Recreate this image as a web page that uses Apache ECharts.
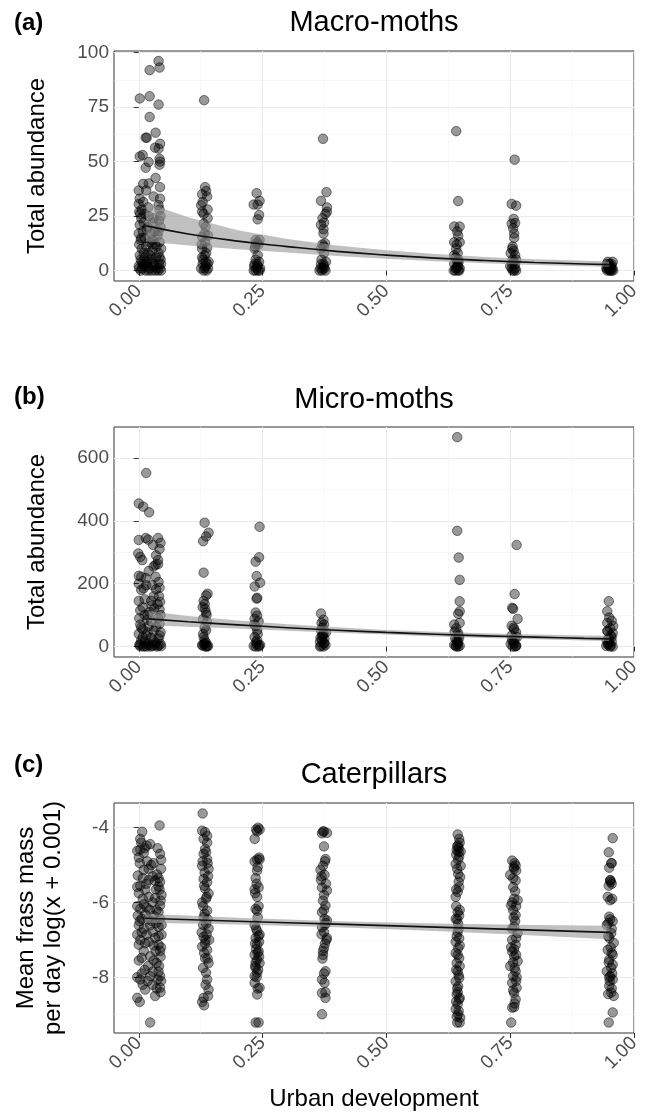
<!DOCTYPE html>
<html>
<head>
<meta charset="utf-8">
<script src="https://cdn.jsdelivr.net/npm/echarts@6.0.0/dist/echarts.min.js"></script>
<style>
  html, body { margin: 0; padding: 0; background: #fff; }
  #chart { width: 651px; height: 1113px; }
</style>
</head>
<body>
<div id="chart"></div>
<script>
// ---- data: [urban development (jittered), value] ----
// (a) Macro-moths, total abundance
const macroS1 = [[0.040,96.2],[0.042,93.2],[0.022,92],[0.002,79],[0.022,80],[0.040,76.2],[0.022,70.5],[0.034,63.3],[0.014,61],[0.016,61],[0.043,58.2],[0.033,56.4],[0.040,56],[0.002,52.4],[0.008,53],[0.020,49.8],[0.042,51.3],[0.043,50],[0.042,48.6],[0.014,47.2],[0.034,42.5],[0.043,38.3],[0.009,39.8],[0.020,40],[0.000,36.8],[0.015,36.8],[0.043,33],[0.002,33],[0.009,31.5],[0.000,30.5],[0.040,30],[0.042,28],
  [0.001,27],[0.012,26],[0.020,25],[0.005,24],[0.030,24],[0.041,23],[0.002,21],[0.018,20],[0.028,22],[0.044,20],[0.008,18],[0.000,17],[0.025,17],[0.038,16],[0.012,15],[0.004,14],[0.022,13],[0.042,13],[0.033,12],[0.001,12],[0.015,11],[0.045,10],[0.006,10],[0.027,9],[0.019,8],[0.040,8],[0.002,7],[0.012,6],[0.035,6],[0.044,5],[0.024,5],[0.006,4],[0.016,3],[0.030,3],[0.041,3],[0.000,2],[0.010,2],[0.021,1],[0.037,1],[0.043,1],[0.004,0],[0.014,0],[0.026,0],[0.033,0],[0.045,0],[0.001,1],[0.018,2],[0.028,4],[0.008,3],
  [0.003,26],[0.010,22],[0.016,19],[0.032,18],[0.040,18],[0.005,15],[0.028,14],[0.036,11],[0.010,8],[0.023,7],[0.042,6],[0.004,5],[0.017,4],[0.031,2],[0.039,0],[0.007,1],[0.020,0],[0.012,3],[0.045,3],[0.027,12],[0.019,29],[0.044,25],[0.030,34],[0.006,28]];
const macroS2 = [[0.132,78.2],[0.134,38.3],[0.136,36.5],[0.128,35],[0.138,34],[0.129,31.4],[0.139,28],[0.128,27],[0.131,21.5],[0.135,20],[0.133,17],[0.128,15.5],[0.140,16],[0.134,13],[0.128,10],[0.138,10.5],[0.133,7],[0.129,3],[0.135,2],[0.140,1],[0.131,0],[0.137,0],[0.126,1],[0.141,4],[0.130,5],[0.136,8],[0.127,12],[0.139,24],[0.131,26],[0.126,30],[0.133,1],[0.139,3],[0.128,6],[0.135,4]];
const macroS3 = [[0.238,35.5],[0.232,30.3],[0.240,30.3],[0.244,32],[0.243,25.5],[0.240,23.5],[0.236,14],[0.244,14],[0.239,13],[0.234,10],[0.240,7],[0.236,5],[0.243,4],[0.238,1],[0.232,0],[0.241,0],[0.236,0],[0.245,1],[0.233,2],[0.239,3],[0.242,12],[0.235,11],[0.244,0],[0.234,3],[0.240,2],[0.237,12]];
const macroS4 = [[0.372,60.5],[0.379,36],[0.368,32],[0.380,29],[0.377,26],[0.380,27],[0.371,24],[0.374,22],[0.368,21],[0.373,19],[0.373,17],[0.371,12],[0.374,11],[0.368,10],[0.374,8],[0.368,3],[0.374,2],[0.372,1],[0.370,0],[0.377,0],[0.365,0],[0.378,4],[0.369,5],[0.376,12.5],[0.373,3],[0.367,1],[0.375,1]];
const macroS5 = [[0.641,64],[0.645,31.9],[0.637,20.2],[0.648,20.2],[0.643,18],[0.645,16],[0.637,13],[0.648,13],[0.641,10],[0.637,7],[0.645,5],[0.637,3],[0.641,1],[0.645,0],[0.639,0],[0.648,1],[0.643,2],[0.636,0],[0.646,4],[0.640,6],[0.644,8],[0.642,12],[0.645,2],[0.640,1],[0.647,0],[0.643,4]];
const macroS6 = [[0.759,50.9],[0.753,30.6],[0.762,29.8],[0.757,23.7],[0.753,21.5],[0.760,21.8],[0.756,19.4],[0.758,17],[0.755,11],[0.757,9],[0.751,8],[0.760,7],[0.755,5],[0.762,5],[0.753,1],[0.758,0],[0.755,0],[0.762,0],[0.750,2],[0.760,3],[0.754,10],[0.758,15],[0.760,1],[0.754,3],[0.757,4]];
const macroS7 = [[0.947,4],[0.955,3],[0.950,2],[0.944,1],[0.953,1],[0.958,0],[0.946,0],[0.951,0],[0.955,0],[0.948,2],[0.957,4],[0.945,3],[0.952,0],[0.949,1],[0.956,1],[0.950,3],[0.954,2],[0.946,1]];
const macroFitX = [0.015, 0.1, 0.2, 0.3, 0.4, 0.5, 0.6, 0.7, 0.8, 0.9, 0.95];
const macroFit = [20.5, 16.8, 13.5, 11, 8.8, 7.1, 5.7, 4.6, 3.7, 3.0, 2.7];
const macroUpper = [31, 24.5, 18.5, 14.5, 11.5, 9.3, 7.6, 6.2, 5.2, 4.5, 4.2];
const macroLower = [13.5, 11.5, 9.8, 8.3, 6.7, 5.4, 4.3, 3.4, 2.6, 2.0, 1.7];

// (b) Micro-moths, total abundance
const microS1 = [[0.015,552],[0.000,455],[0.009,445],[0.021,427],[0.000,339],[0.014,345],[0.019,340],[0.039,345],[0.029,323],[0.042,310],[-0.001,296],[0.003,285],[0.007,275],[0.035,290],[0.039,275],[0.034,260],[0.039,262],[0.020,240],[0.000,225],[0.005,222],[0.014,218],[0.034,222],[0.042,187],[0.035,182],[0.000,145],[0.012,150],[0.025,145],[0.043,142],[0.003,115],[0.022,110],[0.042,118],[0.001,90],[0.017,85],[0.039,90],[0.003,70],[0.020,65],[0.042,72],[0.008,55],[0.030,50],[0.044,45],[0.000,40],[0.015,35],[0.025,28],[0.040,25],[0.005,20],[0.012,15],[0.034,12],[0.044,8],[0.001,5],[0.020,4],[0.028,2],[0.009,0],[0.016,0],[0.037,0],[0.045,1],[0.003,1],[0.024,0],[0.030,160],[0.010,185],[0.027,195],[0.041,160],[0.018,100],[0.031,120],
  [0.005,180],[0.015,195],[0.040,205],[0.026,130],[0.008,125],[0.038,135],[0.012,100],[0.044,100],[0.025,80],[0.005,60],[0.035,62],[0.018,45],[0.042,35],[0.008,30],[0.030,18],[0.020,10],[0.003,8],[0.040,3],[0.012,2],[0.033,5],[0.000,200],[0.030,255],[0.044,330]];
const microS2 = [[0.133,394],[0.141,362],[0.136,350],[0.130,335],[0.131,235],[0.139,168],[0.136,162],[0.131,145],[0.133,135],[0.134,120],[0.136,108],[0.130,88],[0.138,78],[0.133,60],[0.136,52],[0.131,30],[0.133,20],[0.136,12],[0.132,8],[0.129,3],[0.138,0],[0.134,0],[0.140,2],[0.128,5],[0.137,100],[0.129,125],[0.133,10],[0.130,40],[0.137,2]];
const microS3 = [[0.244,381],[0.243,284],[0.236,270],[0.238,224],[0.245,203],[0.234,191],[0.239,155],[0.238,152],[0.236,108],[0.239,98],[0.234,88],[0.242,80],[0.236,65],[0.239,52],[0.234,30],[0.239,20],[0.238,8],[0.236,0],[0.242,0],[0.232,2],[0.245,5],[0.240,40],[0.233,70],[0.237,15],[0.243,3]];
const microS4 = [[0.368,105],[0.373,85],[0.369,75],[0.374,70],[0.368,52],[0.373,41],[0.372,33],[0.370,20],[0.374,10],[0.368,2],[0.373,0],[0.366,0],[0.377,5],[0.371,60],[0.375,25],[0.366,15],[0.378,45],[0.370,35],[0.374,12],[0.367,28]];
const microS5 = [[0.643,666],[0.643,368],[0.646,283],[0.648,212],[0.648,144],[0.648,112],[0.645,104],[0.637,70],[0.648,75],[0.641,58],[0.645,42],[0.639,26],[0.643,12],[0.641,0],[0.645,0],[0.648,2],[0.637,5],[0.642,20],[0.646,35],[0.638,48],[0.644,8],[0.645,15],[0.640,3],[0.647,28]];
const microS6 = [[0.763,323],[0.759,167],[0.754,123],[0.756,120],[0.765,88],[0.753,66],[0.758,55],[0.762,45],[0.753,35],[0.759,25],[0.756,14],[0.762,3],[0.755,0],[0.760,0],[0.751,8],[0.764,30],[0.757,60],[0.758,10],[0.754,20],[0.762,2]];
const microS7 = [[0.949,144],[0.946,112],[0.950,92],[0.955,82],[0.946,75],[0.952,58],[0.946,50],[0.957,42],[0.950,26],[0.955,16],[0.947,8],[0.952,0],[0.957,0],[0.944,2],[0.953,35],[0.945,20],[0.958,65],[0.948,5],[0.950,12],[0.955,30],[0.947,48],[0.953,3]];
const microFitX = [0.02, 0.1, 0.2, 0.3, 0.4, 0.5, 0.6, 0.7, 0.8, 0.9, 0.95];
const microFit = [88, 79, 69, 60, 52, 45, 39, 34, 30, 26, 24.5];
const microUpper = [112, 97, 83, 71, 61, 53, 47, 42, 38, 35, 34];
const microLower = [68, 63, 57, 50, 44, 38, 32, 27, 23, 19.5, 18];

// (c) Caterpillars, mean frass mass per day, log(x + 0.001)
const caterS1 = [[0.042,-3.94],[0.007,-4.11],[0.003,-4.3],[0.023,-4.44],[0.016,-4.48],[-0.003,-4.62],[0.003,-4.58],[0.010,-4.68],[0.043,-4.7],[0.045,-4.86],[0.000,-4.8],[0.017,-4.9],[0.030,-4.95],[0.010,-5.13],[0.020,-5.1],[0.037,-5.25],[-0.002,-5.28],[0.020,-5.4],[0.033,-5.42],[0.043,-5.45],[0.040,-5.57],[0.042,-5.66],[-0.003,-5.58],[0.003,-5.55],[0.013,-5.66],[0.020,-5.85],[0.033,-5.88],[0.046,-5.8],[-0.003,-6.1],[0.003,-6.17],[0.016,-6.13],[0.036,-6.2],[0.043,-6.08],[-0.002,-6.35],[0.006,-6.44],[0.013,-6.32],[0.030,-6.35],[0.043,-6.44],[0.000,-6.61],[0.010,-6.7],[0.023,-6.61],[0.040,-6.65],[-0.003,-6.86],[0.016,-6.86],[0.033,-6.95],[0.046,-6.86],[0.000,-7.13],[0.013,-7.09],[0.040,-7.13],[0.043,-7.3],[0.006,-7.48],[0.023,-7.44],[0.036,-7.62],[0.041,-7.7],[-0.003,-8.0],[0.003,-8.06],[0.023,-7.97],[0.038,-8.06],[0.043,-7.97],[0.013,-8.33],[0.043,-8.28],[0.033,-8.5],[-0.003,-8.55],[0.002,-8.66],[0.023,-9.21],[0.028,-6.0],[0.008,-5.9],[0.026,-6.5],[0.034,-7.3],[0.019,-7.7],[0.006,-7.9],[0.045,-8.1],
  [0.005,-4.4],[0.012,-4.55],[0.038,-4.55],[0.002,-4.95],[0.025,-5.0],[0.045,-5.1],[0.008,-5.35],[0.028,-5.3],[0.040,-5.35],[0.015,-5.5],[0.035,-5.65],[0.000,-5.75],[0.044,-5.95],[0.010,-6.05],[0.022,-6.2],[0.040,-6.25],[0.002,-6.5],[0.018,-6.45],[0.035,-6.55],[0.046,-6.6],[0.006,-6.8],[0.028,-6.78],[0.040,-6.9],[0.003,-7.0],[0.020,-7.05],[0.030,-7.15],[0.045,-7.2],[0.010,-7.3],[0.000,-7.55],[0.030,-7.55],[0.044,-7.45],[0.012,-7.8],[0.028,-7.85],[0.040,-7.85],[0.008,-8.2],[0.018,-8.1],[0.036,-8.3],[0.044,-8.4],[0.028,-8.2]];
const caterS2 = [[0.129,-3.62],[0.128,-4.08],[0.134,-4.12],[0.138,-4.22],[0.138,-4.4],[0.134,-4.57],[0.131,-4.7],[0.138,-4.84],[0.128,-5.02],[0.141,-5.1],[0.131,-5.37],[0.138,-5.46],[0.134,-5.63],[0.141,-5.76],[0.128,-6.0],[0.138,-6.22],[0.131,-6.39],[0.136,-6.57],[0.141,-6.7],[0.131,-6.92],[0.134,-7.1],[0.138,-7.27],[0.128,-7.18],[0.134,-7.49],[0.141,-7.62],[0.136,-7.88],[0.138,-8.06],[0.141,-8.33],[0.131,-8.55],[0.128,-8.66],[0.136,-5.9],[0.130,-6.1],[0.139,-4.95],[0.133,-5.2],[0.127,-6.8],[0.135,-7.0],[0.140,-8.5],[0.132,-8.75],
  [0.131,-4.3],[0.136,-4.65],[0.129,-4.9],[0.140,-5.3],[0.132,-5.55],[0.137,-5.85],[0.133,-6.3],[0.139,-6.45],[0.130,-6.6],[0.137,-6.85],[0.132,-7.35],[0.139,-7.5],[0.130,-7.75],[0.135,-8.2],[0.142,-7.0]];
const caterS3 = [[0.244,-4.05],[0.239,-4.1],[0.234,-4.3],[0.239,-4.85],[0.244,-4.85],[0.234,-4.9],[0.239,-5.15],[0.236,-5.35],[0.242,-5.6],[0.234,-5.65],[0.239,-5.85],[0.236,-6.17],[0.239,-6.22],[0.234,-6.6],[0.239,-6.77],[0.244,-6.86],[0.236,-6.95],[0.239,-7.13],[0.242,-7.31],[0.234,-7.4],[0.239,-7.53],[0.244,-7.62],[0.236,-7.75],[0.239,-7.88],[0.234,-7.97],[0.244,-8.28],[0.239,-8.46],[0.236,-9.21],[0.242,-9.21],[0.241,-4.0],[0.237,-7.25],[0.243,-7.05],[0.235,-7.7],[0.240,-6.4],[0.238,-5.5],
  [0.237,-4.05],[0.243,-4.8],[0.240,-5.05],[0.235,-5.75],[0.242,-6.1],[0.237,-6.7],[0.242,-6.9],[0.235,-7.1],[0.240,-7.35],[0.243,-7.45],[0.236,-7.6],[0.241,-7.8],[0.238,-8.0],[0.234,-8.15],[0.240,-8.3]];
const caterS4 = [[0.374,-4.1],[0.380,-4.14],[0.370,-4.15],[0.374,-4.5],[0.377,-4.84],[0.372,-5.02],[0.367,-5.13],[0.375,-5.26],[0.370,-5.6],[0.380,-5.68],[0.374,-5.8],[0.377,-6.08],[0.370,-6.26],[0.375,-6.44],[0.380,-6.48],[0.370,-6.66],[0.374,-6.79],[0.380,-6.95],[0.374,-7.22],[0.372,-7.4],[0.377,-7.84],[0.370,-8.06],[0.375,-8.15],[0.370,-8.42],[0.377,-8.55],[0.370,-8.99],[0.376,-6.6],[0.368,-5.4],[0.379,-7.0],[0.371,-7.5],
  [0.372,-4.1],[0.376,-4.9],[0.369,-5.3],[0.378,-5.5],[0.372,-5.95],[0.374,-6.2],[0.378,-6.55],[0.369,-6.85],[0.376,-7.1],[0.372,-7.3],[0.374,-7.9],[0.377,-8.4]];
const caterS5 = [[0.644,-4.18],[0.647,-4.3],[0.645,-4.47],[0.642,-4.6],[0.650,-4.64],[0.647,-4.77],[0.640,-4.97],[0.650,-5.02],[0.645,-5.24],[0.649,-5.32],[0.647,-5.59],[0.644,-5.72],[0.640,-5.85],[0.644,-6.26],[0.647,-6.35],[0.640,-6.44],[0.645,-6.57],[0.644,-6.79],[0.647,-6.96],[0.640,-7.05],[0.645,-7.22],[0.640,-7.35],[0.647,-7.49],[0.642,-7.62],[0.644,-7.84],[0.647,-8.02],[0.640,-8.11],[0.645,-8.24],[0.642,-8.46],[0.647,-8.59],[0.644,-8.72],[0.640,-8.85],[0.645,-8.99],[0.649,-9.08],[0.643,-9.21],[0.648,-9.21],[0.646,-4.55],[0.641,-6.1],[0.648,-7.7],[0.643,-8.3],
  [0.648,-4.4],[0.643,-4.5],[0.646,-4.65],[0.641,-4.72],[0.645,-4.85],[0.643,-5.1],[0.646,-5.45],[0.641,-5.65],[0.648,-6.2],[0.643,-6.45],[0.646,-6.7],[0.642,-6.9],[0.648,-7.15],[0.644,-7.4],[0.641,-7.8],[0.646,-7.95],[0.644,-8.4],[0.648,-8.55],[0.641,-8.65],[0.646,-8.9],[0.642,-9.05]];
const caterS6 = [[0.754,-4.88],[0.761,-5.01],[0.758,-5.1],[0.750,-5.26],[0.761,-5.41],[0.756,-5.59],[0.758,-5.9],[0.765,-5.94],[0.752,-6.08],[0.756,-6.21],[0.761,-6.34],[0.758,-6.65],[0.765,-6.82],[0.754,-7.0],[0.761,-7.13],[0.754,-7.31],[0.758,-7.44],[0.765,-7.57],[0.750,-7.7],[0.761,-7.84],[0.756,-7.97],[0.754,-8.15],[0.763,-8.28],[0.758,-8.42],[0.761,-8.59],[0.754,-8.81],[0.752,-9.21],[0.757,-5.05],[0.760,-6.5],[0.752,-7.2],[0.763,-8.0],[0.759,-8.7],
  [0.759,-4.95],[0.762,-5.15],[0.756,-5.35],[0.760,-5.7],[0.754,-6.0],[0.762,-6.1],[0.757,-6.4],[0.754,-6.7],[0.762,-6.95],[0.758,-7.25],[0.762,-7.4],[0.756,-7.6],[0.759,-7.75],[0.762,-8.1],[0.756,-8.35],[0.758,-8.8]];
const caterS7 = [[0.957,-4.28],[0.949,-4.66],[0.954,-4.95],[0.950,-5.07],[0.952,-5.41],[0.955,-5.5],[0.947,-5.85],[0.952,-5.94],[0.950,-6.38],[0.957,-6.5],[0.945,-6.6],[0.954,-6.82],[0.950,-6.95],[0.959,-7.08],[0.947,-7.27],[0.955,-7.35],[0.950,-7.53],[0.957,-7.66],[0.945,-7.84],[0.952,-7.97],[0.957,-8.06],[0.950,-8.23],[0.954,-8.41],[0.959,-8.5],[0.957,-8.94],[0.949,-9.21],[0.953,-5.45],[0.948,-6.55],[0.956,-7.9],[0.951,-8.1],
  [0.955,-4.95],[0.952,-5.4],[0.949,-5.55],[0.956,-5.9],[0.952,-6.45],[0.955,-6.7],[0.948,-6.9],[0.953,-7.2],[0.957,-7.4],[0.949,-7.6],[0.954,-7.75],[0.950,-8.0],[0.955,-8.3],[0.948,-8.45]];
const caterFitX = [0.012, 0.2, 0.4, 0.6, 0.8, 0.95];
const caterFit = [-6.42, -6.50, -6.58, -6.66, -6.74, -6.80];
const caterUpper = [-6.30, -6.41, -6.50, -6.56, -6.60, -6.62];
const caterLower = [-6.54, -6.59, -6.66, -6.76, -6.88, -6.98];

const xTicks = [0, 0.25, 0.5, 0.75, 1];
const macroTicks = [0, 25, 50, 75, 100];
const microTicks = [0, 200, 400, 600];
const caterTicks = [-8, -6, -4];

// ---- styling ----
const FONT = '"Liberation Sans", Arial, Helvetica, sans-serif';
const grids = [51, 427, 803].map(top => ({
  left: 114, top: top, width: 520, height: 230,
  show: true, borderColor: '#333', borderWidth: 1, outerBoundsMode: 'none'
}));

function xAxisFor(i, name) {
  return {
    type: 'value', gridIndex: i, min: -0.05, max: 1.0,
    minInterval: 0.25, maxInterval: 0.25,
    name: name, nameLocation: 'middle', nameGap: 54,
    nameTextStyle: { color: '#000', fontSize: 24, fontFamily: FONT },
    axisLine: { show: false },
    axisTick: { show: true, length: 5, lineStyle: { color: '#333' }, customValues: xTicks },
    axisLabel: { color: '#4d4d4d', fontSize: 19, fontFamily: FONT, rotate: 45, margin: 7,
      customValues: xTicks, formatter: v => v.toFixed(2) },
    splitLine: { show: true, lineStyle: { color: '#ebebeb', width: 1.1 } },
    minorTick: { show: false, splitNumber: 2 },
    minorSplitLine: { show: true, lineStyle: { color: '#f2f2f2', width: 0.6 } }
  };
}

function yAxisFor(i, min, max, step, ticks, name, gap) {
  return {
    type: 'value', gridIndex: i, min: min, max: max,
    minInterval: step, maxInterval: step,
    name: name, nameLocation: 'middle', nameRotate: 90, nameGap: gap,
    nameTextStyle: { color: '#000', fontSize: 24, fontFamily: FONT, lineHeight: 27 },
    axisLine: { show: false },
    axisTick: { show: true, length: 5, lineStyle: { color: '#333' }, customValues: ticks },
    axisLabel: { color: '#4d4d4d', fontSize: 19, fontFamily: FONT, margin: 5,
      customValues: ticks, formatter: v => String(v) },
    splitLine: { show: true, lineStyle: { color: '#ebebeb', width: 1.1 } },
    minorTick: { show: false, splitNumber: 2 },
    minorSplitLine: { show: true, lineStyle: { color: '#f2f2f2', width: 0.6 } }
  };
}

function pointsSeries(i, data) {
  return {
    type: 'scatter', xAxisIndex: i, yAxisIndex: i, data: data, z: 2,
    symbol: 'circle', symbolSize: 9.5,
    itemStyle: { color: 'rgba(0,0,0,0.5)', borderColor: 'rgba(0,0,0,0.6)', borderWidth: 1 },
    emphasis: { disabled: true }
  };
}

function bandSeries(i, xs, lo, hi) {
  return {
    type: 'custom', xAxisIndex: i, yAxisIndex: i, z: 3,
    data: xs.map((x, k) => [x, lo[k]]),
    renderItem: function (params, api) {
      if (params.dataIndex !== 0) return null;
      const top = xs.map((x, k) => api.coord([x, hi[k]]));
      const bottom = xs.map((x, k) => api.coord([x, lo[k]])).reverse();
      return { type: 'polygon', shape: { points: top.concat(bottom) },
        style: { fill: 'rgba(150,150,150,0.6)' } };
    }
  };
}

function fitSeries(i, xs, ys) {
  return {
    type: 'line', xAxisIndex: i, yAxisIndex: i, z: 4, smooth: true,
    showSymbol: false, data: xs.map((x, k) => [x, ys[k]]),
    lineStyle: { color: '#111', width: 1.6 }
  };
}

function label(text, x, y, size, bold, align) {
  const font = (bold ? 'bold ' : '') + size + 'px ' + FONT;
  return { type: 'text', x: x, y: y, z: 10,
    style: { text: text, font: font, fill: '#000', align: align, textAlign: align,
      verticalAlign: 'middle', textVerticalAlign: 'middle' } };
}

const chart = echarts.init(document.getElementById('chart'), null, { renderer: 'canvas' });
chart.setOption({
  animation: false,
  backgroundColor: '#fff',
  textStyle: { fontFamily: FONT },
  grid: grids,
  xAxis: [xAxisFor(0, ''), xAxisFor(1, ''), xAxisFor(2, 'Urban development')],
  yAxis: [
    yAxisFor(0, -4.8, 100.8, 25, macroTicks, 'Total abundance', 63),
    yAxisFor(1, -33.25, 698.25, 200, microTicks, 'Total abundance', 63),
    yAxisFor(2, -9.49, -3.34, 2, caterTicks, 'Mean frass mass\nper day log(x + 0.001)', 47)
  ],
  series: [
    pointsSeries(0, [].concat(macroS1, macroS2, macroS3, macroS4, macroS5, macroS6, macroS7)),
    bandSeries(0, macroFitX, macroLower, macroUpper),
    fitSeries(0, macroFitX, macroFit),
    pointsSeries(1, [].concat(microS1, microS2, microS3, microS4, microS5, microS6, microS7)),
    bandSeries(1, microFitX, microLower, microUpper),
    fitSeries(1, microFitX, microFit),
    pointsSeries(2, [].concat(caterS1, caterS2, caterS3, caterS4, caterS5, caterS6, caterS7)),
    bandSeries(2, caterFitX, caterLower, caterUpper),
    fitSeries(2, caterFitX, caterFit)
  ],
  graphic: [
    label('(a)', 14, 23, 24, true, 'left'),
    label('Macro-moths', 374, 23, 29, false, 'center'),
    label('(b)', 14, 397, 24, true, 'left'),
    label('Micro-moths', 374, 400, 29, false, 'center'),
    label('(c)', 14, 765, 24, true, 'left'),
    label('Caterpillars', 374, 775, 29, false, 'center')
  ]
});
</script>
</body>
</html>
